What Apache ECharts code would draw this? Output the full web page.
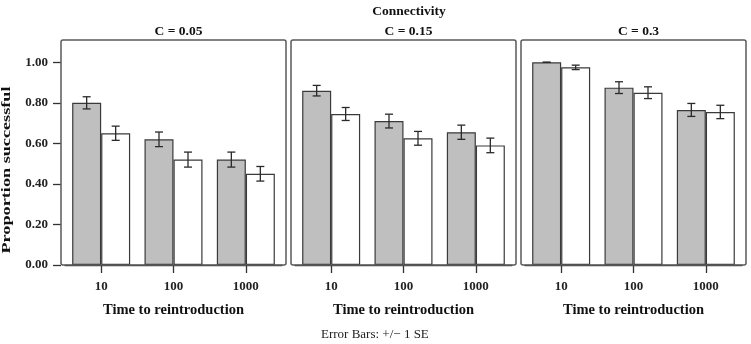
<!DOCTYPE html>
<html><head><meta charset="utf-8">
<script src="https://cdn.jsdelivr.net/npm/echarts@6/dist/echarts.min.js"></script>
<style>html,body{margin:0;padding:0;background:#fff}#c{width:751px;height:344px}</style>
</head><body><div id="c"></div>
<script>
// ---- data ----
const categories = ['10', '100', '1000'];
const panelTitles = ['C = 0.05', 'C = 0.15', 'C = 0.3'];
const yTicks = [0, 0.2, 0.4, 0.6, 0.8, 1.0];
const gray005 = [0.80, 0.62, 0.52];
const white005 = [0.65, 0.52, 0.45];
const gray015 = [0.86, 0.71, 0.655];
const white015 = [0.745, 0.625, 0.59];
const gray030 = [1.00, 0.875, 0.765];
const white030 = [0.975, 0.85, 0.755];
const graySE005 = [0.030, 0.036, 0.037];
const whiteSE005 = [0.035, 0.037, 0.036];
const graySE015 = [0.026, 0.034, 0.035];
const whiteSE015 = [0.032, 0.034, 0.036];
const graySE030 = [0.0, 0.029, 0.032];
const whiteSE030 = [0.011, 0.029, 0.033];

const grayMeans = [gray005, gray015, gray030];
const whiteMeans = [white005, white015, white030];
const graySEs = [graySE005, graySE015, graySE030];
const whiteSEs = [whiteSE005, whiteSE015, whiteSE030];

// ---- layout ----
const FONT = '"Liberation Serif", "DejaVu Serif", serif';
const boxLeft = [61, 291, 521];
const boxW = 225, boxTop = 40, boxH = 225;
const inset = 4;
const BAR_W = 29;
const grayFill = '#bfbfbf';
const edge = '#3a3a3a';

const chart = echarts.init(document.getElementById('c'), null, {renderer: 'canvas'});

const grids = [], xAxes = [], yAxes = [], series = [], titles = [], graphics = [];

function errRender(offset) {
  return function (params, api) {
    const c = api.value(0), m = api.value(1), se = api.value(2);
    const x = api.coord([c, m])[0] + offset;
    const yLo = api.coord([c, m - se])[1];
    const yHi = api.coord([c, m + se])[1];
    const cap = 4;
    const st = {stroke: '#2a2a2a', lineWidth: 1.3};
    return {
      type: 'group',
      children: [
        {type: 'line', shape: {x1: x, y1: yLo, x2: x, y2: yHi}, style: st},
        {type: 'line', shape: {x1: x - cap, y1: yLo, x2: x + cap, y2: yLo}, style: st},
        {type: 'line', shape: {x1: x - cap, y1: yHi, x2: x + cap, y2: yHi}, style: st}
      ]
    };
  };
}

for (let p = 0; p < 3; p++) {
  grids.push({left: boxLeft[p] + inset, top: boxTop, width: boxW - 2 * inset, height: boxH, containLabel: false});
  xAxes.push({
    type: 'category', gridIndex: p, data: categories,
    axisLine: {show: true, lineStyle: {color: '#444', width: 1.3}},
    axisTick: {show: true, alignWithLabel: true, length: 8, lineStyle: {color: '#333', width: 1.3}},
    axisLabel: {margin: 15, fontFamily: FONT, fontSize: 13, fontWeight: 'bold', color: '#222'},
    name: 'Time to reintroduction', nameLocation: 'middle', nameGap: 38,
    nameTextStyle: {fontFamily: FONT, fontSize: 14.5, fontWeight: 'bold', color: '#111'}
  });
  yAxes.push({
    type: 'value', gridIndex: p, min: 0, max: 1.11,
    offset: inset,
    axisLine: {show: false},
    splitLine: {show: false},
    axisTick: {show: p === 0, length: 8, customValues: yTicks, lineStyle: {color: '#333', width: 1.3}},
    axisLabel: {show: p === 0, customValues: yTicks, margin: 13, fontFamily: FONT, fontSize: 13, fontWeight: 'bold', color: '#222',
      formatter: v => v.toFixed(2)}
  });
  series.push({
    type: 'bar', xAxisIndex: p, yAxisIndex: p, data: grayMeans[p],
    barWidth: BAR_W, barGap: '0%',
    itemStyle: {color: grayFill, borderColor: edge, borderWidth: 1.2}
  });
  series.push({
    type: 'bar', xAxisIndex: p, yAxisIndex: p, data: whiteMeans[p],
    barWidth: BAR_W, barGap: '0%',
    itemStyle: {color: '#ffffff', borderColor: edge, borderWidth: 1.2}
  });
  series.push({
    type: 'custom', xAxisIndex: p, yAxisIndex: p, z: 5,
    renderItem: errRender(-BAR_W / 2),
    encode: {x: 0, y: 1},
    data: categories.map((c, i) => [i, grayMeans[p][i], graySEs[p][i]])
  });
  series.push({
    type: 'custom', xAxisIndex: p, yAxisIndex: p, z: 5,
    renderItem: errRender(BAR_W / 2),
    encode: {x: 0, y: 1},
    data: categories.map((c, i) => [i, whiteMeans[p][i], whiteSEs[p][i]])
  });
  titles.push({
    text: panelTitles[p], left: boxLeft[p] + boxW / 2, top: 20, textAlign: 'center',
    textStyle: {fontFamily: FONT, fontSize: 13.5, fontWeight: 'bold', color: '#111'}
  });
  graphics.push({
    type: 'rect', z: 10, silent: true,
    shape: {x: boxLeft[p], y: boxTop, width: boxW, height: boxH, r: 2},
    style: {fill: 'none', stroke: '#5a5a5a', lineWidth: 1.5}
  });
}

titles.push({
  text: 'Connectivity', left: 404, top: 0, textAlign: 'center',
  textStyle: {fontFamily: FONT, fontSize: 13.5, fontWeight: 'bold', color: '#111'}
});
graphics.push({
  type: 'text', x: 7, y: 170, rotation: Math.PI / 2, scaleX: 1.4,
  style: {text: 'Proportion successful', font: 'bold 13px ' + FONT, fill: '#111', textAlign: 'center', textVerticalAlign: 'middle'}
});
graphics.push({
  type: 'text', x: 321, y: 335,
  style: {text: 'Error Bars: +/\u2212 1 SE', font: '13px ' + FONT, fill: '#222', textAlign: 'left', textVerticalAlign: 'middle'}
});

chart.setOption({
  animation: false,
  backgroundColor: '#fff',
  title: titles,
  grid: grids,
  xAxis: xAxes,
  yAxis: yAxes,
  series: series,
  graphic: graphics
});
</script></body></html>
